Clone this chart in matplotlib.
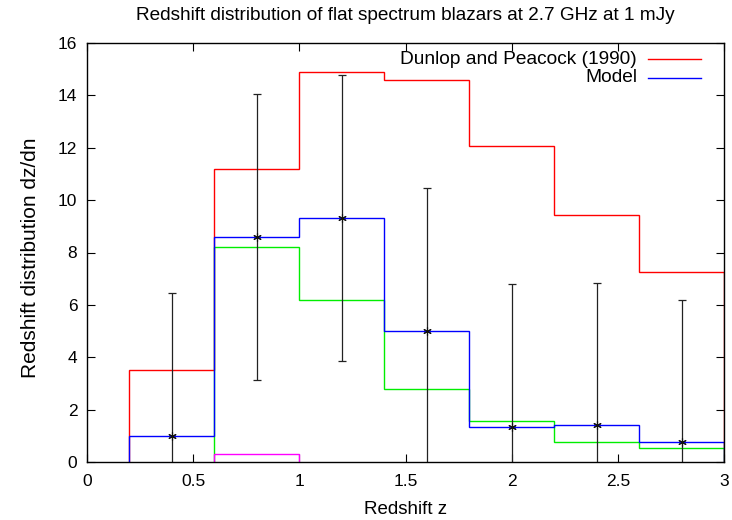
import matplotlib
matplotlib.use("Agg")
import matplotlib.pyplot as plt
from matplotlib.lines import Line2D

plt.rcParams['font.family'] = ['Liberation Sans', 'DejaVu Sans']

# Data
edges = [0.2, 0.6, 1.0, 1.4, 1.8, 2.2, 2.6, 3.0]
dunlop_peacock = [3.5, 11.2, 14.9, 14.6, 12.05, 9.45, 7.25]
model = [1.0, 8.6, 9.3, 5.0, 1.35, 1.4, 0.75]
green_edges = [0.6, 1.0, 1.4, 1.8, 2.2, 2.6, 3.0]
green_vals = [8.2, 6.2, 2.8, 1.55, 0.75, 0.55]
magenta_edges = [0.6, 1.0]
magenta_vals = [0.3]
obs_z = [0.4, 0.8, 1.2, 1.6, 2.0, 2.4, 2.8]
obs_n = [1.0, 8.6, 9.3, 5.0, 1.35, 1.4, 0.75]
obs_err = [5.45, 5.45, 5.46, 5.45, 5.45, 5.45, 5.45]

xticks = [0, 0.5, 1, 1.5, 2, 2.5, 3]
xticklabels = ['0', '0.5', '1', '1.5', '2', '2.5', '3']
yticks = [0, 2, 4, 6, 8, 10, 12, 14, 16]

fig = plt.figure(figsize=(7.32, 5.2), dpi=100)
ax = fig.add_axes([87/732, 1-462/520, (724-87)/732, (462-43)/520])

ax.stairs(dunlop_peacock, edges, baseline=0, color='#ff0000', lw=1.0, zorder=2)
ax.stairs(green_vals, green_edges, baseline=0, color='#00ee00', lw=1.0, zorder=2)
ax.stairs(magenta_vals, magenta_edges, baseline=0, color='#ff00ff', lw=1.0, zorder=2)
ax.stairs(model, edges, baseline=0, color='#0000ff', lw=1.0, zorder=3)

ax.errorbar(obs_z, obs_n, yerr=obs_err, fmt='none', ecolor='#222222',
            elinewidth=0.9, capsize=3, capthick=0.9, zorder=4)
ax.plot(obs_z, obs_n, linestyle='none', marker=(6, 2, 0), markersize=6,
        markeredgecolor='#111111', markeredgewidth=0.8, color='black', zorder=5)

ax.set_xlim(0, 3)
ax.set_ylim(0, 16)
ax.set_xticks(xticks)
ax.set_xticklabels(xticklabels)
ax.set_yticks(yticks)
ax.tick_params(direction='in', length=6, width=0.8, top=True, right=True,
               labelsize=12.5)
ax.tick_params(axis='x', pad=9)
ax.tick_params(axis='y', pad=7)
for s in ax.spines.values():
    s.set_linewidth(1.0)
    s.set_zorder(6)

fig.text(405/732, 1 - 510/520, 'Redshift z', ha='center', va='center', fontsize=13.5)
fig.text(31/732, 1 - 258/520, 'Redshift distribution dz/dn', ha='center', va='center',
         rotation=90, fontsize=15)
fig.text(405/732, 1 - 15/520, 'Redshift distribution of flat spectrum blazars at 2.7 GHz at 1 mJy',
         ha='center', va='center', fontsize=13.7)

# Legend (manual, gnuplot style: right-aligned text, sample line on right)
leg_labels = ['Dunlop and Peacock (1990)', 'Model']
leg_colors = ['#ff0000', '#0000ff']
leg_y = [1 - (59 - 43)/419, 1 - (78 - 43)/419]
x_text = (637 - 87)/637
x0 = (648 - 87)/637
x1 = (701 - 87)/637
for lab, col, yy in zip(leg_labels, leg_colors, leg_y):
    ax.text(x_text, yy, lab, transform=ax.transAxes, ha='right', va='center', fontsize=13.8)
    ax.add_line(Line2D([x0, x1], [yy, yy], transform=ax.transAxes, color=col, lw=1.0))

fig.savefig('out.png', dpi=100)
